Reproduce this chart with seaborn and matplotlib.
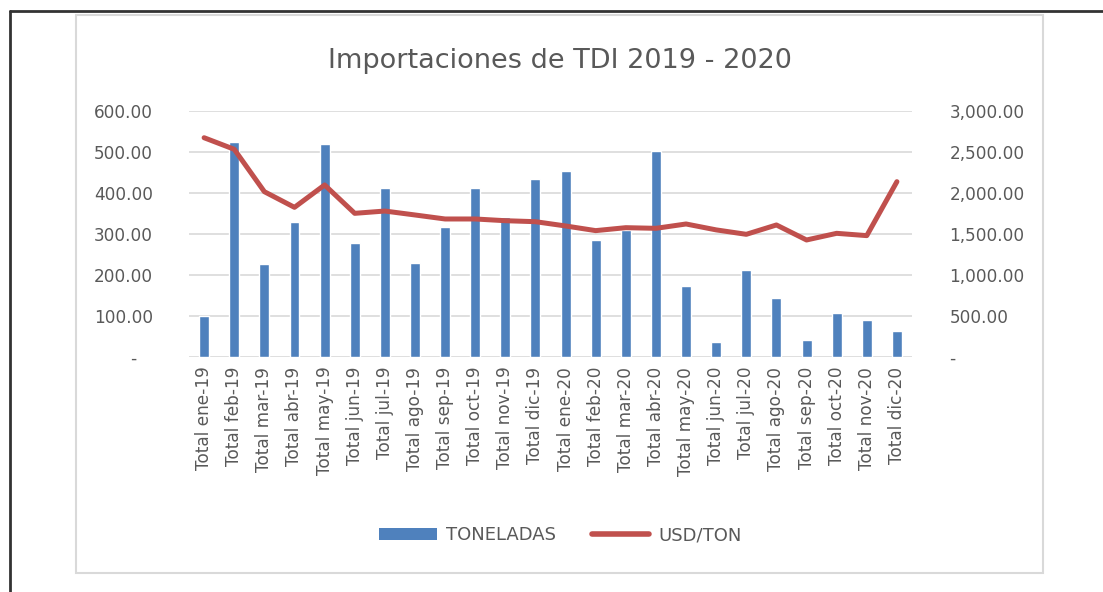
import numpy as np
import pandas as pd
import matplotlib
matplotlib.use('Agg')
import matplotlib.pyplot as plt
import seaborn as sns
from matplotlib.lines import Line2D
from matplotlib.patches import Patch, Rectangle

# Data
months = ['Total ene-19', 'Total feb-19', 'Total mar-19', 'Total abr-19', 'Total may-19',
          'Total jun-19', 'Total jul-19', 'Total ago-19', 'Total sep-19', 'Total oct-19',
          'Total nov-19', 'Total dic-19', 'Total ene-20', 'Total feb-20', 'Total mar-20',
          'Total abr-20', 'Total may-20', 'Total jun-20', 'Total jul-20', 'Total ago-20',
          'Total sep-20', 'Total oct-20', 'Total nov-20', 'Total dic-20']
toneladas = [100, 524, 228, 329, 520, 278, 411, 229, 316, 412, 342, 435,
             453, 285, 310, 502, 173, 37, 212, 145, 42, 108, 90, 64]
usd_ton = [2674, 2533, 2016, 1825, 2098, 1752, 1780, 1732, 1683, 1683, 1662, 1650,
           1598, 1541, 1577, 1569, 1622, 1550, 1496, 1610, 1427, 1508, 1480, 2138]

left_ticks = [0, 100, 200, 300, 400, 500, 600]
right_ticks = [0, 500, 1000, 1500, 2000, 2500, 3000]

bar_color = '#4F81BD'
line_color = '#C0504D'
text_color = '#595959'
grid_color = '#D9D9D9'

df = pd.DataFrame({'mes': months, 'TONELADAS': toneladas, 'USD/TON': usd_ton})
df['pos'] = np.arange(len(df))

sns.set_style('white')
plt.rcParams['font.family'] = ['DejaVu Sans']

fig = plt.figure(figsize=(11.03, 5.92), dpi=100)
ax = fig.add_axes([0.1714, 0.397, 0.6554, 0.4155])

sns.barplot(data=df, x='mes', y='TONELADAS', color=bar_color, saturation=1,
            width=0.33, ax=ax, zorder=2)
ax2 = ax.twinx()
sns.lineplot(data=df, x='pos', y='USD/TON', color=line_color, linewidth=3.6,
             ax=ax2, zorder=3)

ax.set_xlim(-0.5, len(months) - 0.5)
ax.set_ylim(0, 600)
ax2.set_ylim(0, 3000)
ax.set_yticks(left_ticks)
ax.set_yticklabels(['-   '] + [f'{v:,.2f}' for v in left_ticks[1:]])
ax2.set_yticks(right_ticks)
ax2.set_yticklabels(['-'] + [f'{v:,.2f}' for v in right_ticks[1:]])
ax.set_xticks(range(len(months)))
ax.set_xticklabels(months, rotation=90)

ax.yaxis.grid(True, color=grid_color, linewidth=1.2, zorder=0)
ax.set_axisbelow(True)
for a in (ax, ax2):
    for s in a.spines.values():
        s.set_visible(False)
    a.set_xlabel('')
    a.set_ylabel('')
    a.tick_params(length=0, colors=text_color, labelsize=12.2)
ax.tick_params(axis='y', pad=26)
ax2.tick_params(axis='y', pad=27)
ax.tick_params(axis='x', pad=7)

fig.text(0.508, 0.897, 'Importaciones de TDI 2019 - 2020', ha='center', va='center',
         fontsize=19.5, color=text_color)

handles = [Patch(facecolor=bar_color, edgecolor='none', label='TONELADAS'),
           Line2D([0], [0], color=line_color, linewidth=4, label='USD/TON')]
fig.legend(handles=handles, loc='center', bbox_to_anchor=(0.508, 0.096), ncol=2,
           frameon=False, fontsize=13, labelcolor=text_color, handlelength=3.2,
           handleheight=0.7, columnspacing=2.0, handletextpad=0.5)

# chart frame and outer page border
fig.add_artist(Rectangle((76 / 1103, 1 - 573 / 592), (1043 - 76) / 1103, (573 - 15) / 592,
                         transform=fig.transFigure, fill=False, edgecolor=grid_color,
                         linewidth=1.5))
fig.add_artist(Line2D([10 / 1103, 10 / 1103], [0, 1 - 11 / 592], transform=fig.transFigure,
                      color='#333333', linewidth=2))
fig.add_artist(Line2D([10 / 1103, 1], [1 - 11 / 592, 1 - 11 / 592], transform=fig.transFigure,
                      color='#333333', linewidth=2))

fig.savefig('out.png', dpi=100)
